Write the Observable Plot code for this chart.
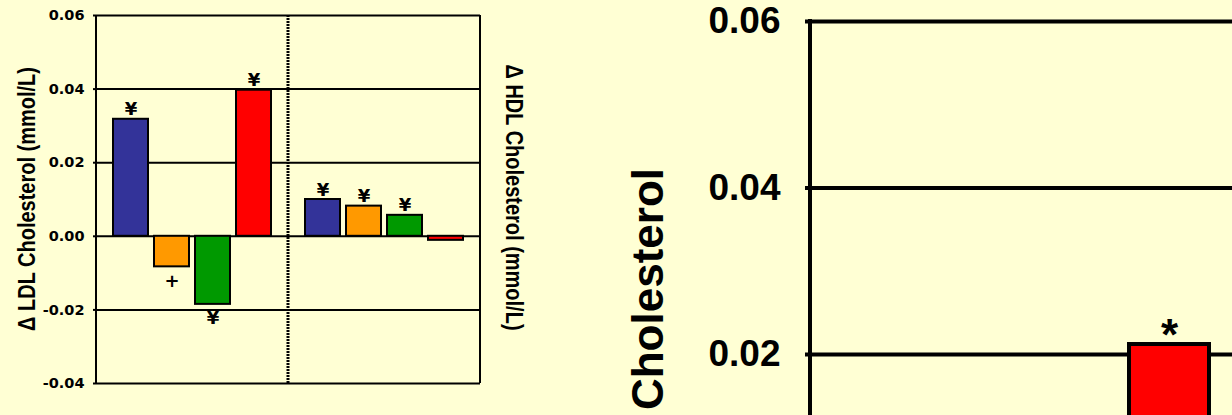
<!DOCTYPE html>
<html><head><meta charset="utf-8">
<script src="https://cdn.jsdelivr.net/npm/d3@7"></script>
<script src="https://cdn.jsdelivr.net/npm/@observablehq/plot@0.6"></script>
<style>
html,body{margin:0;padding:0;background:#FFFFD4;}
#wrap{position:relative;width:1232px;height:415px;overflow:hidden;background:#FFFFD4;}
#left{position:absolute;left:0;top:0;width:560px;}
#right{position:absolute;left:560px;top:0;width:700px;}
svg{overflow:visible;max-width:none !important;}
</style></head><body><div id="wrap"><div id="left"></div><div id="right"></div></div>
<script>
// ---- data: main panel ----
const groups = ["LDL", "HDL"];
const arms = ["Arm 1", "Arm 2", "Arm 3", "Arm 4"];
const armColors = ["#333399", "#FF9900", "#009900", "#FF0000"];
const ldlChange = [0.0318, -0.0083, -0.0185, 0.0397];
const hdlChange = [0.0100, 0.0082, 0.0057, -0.0011];
const ldlMarks = ["¥", "+", "¥", "¥"];
const hdlMarks = ["¥", "¥", "¥", ""];
const yTicks = [-0.04, -0.02, 0, 0.02, 0.04, 0.06];
const leftYLabel = "Δ LDL Cholesterol (mmol/L)";
const rightYLabel = "Δ HDL Cholesterol (mmol/L)";

// ---- data: enlarged inset panel (only the visible part) ----
const insetArms = ["Arm 4"];
const insetChange = [0.0212];
const insetMarks = ["*"];
const insetTicks = [0.02, 0.04, 0.06];
const insetYLabel = "Cholesterol";

const fmt = d => d.toFixed(2);
const rows = groups.flatMap(g => arms.map((a, i) => ({
  group: g, arm: a,
  value: g === "LDL" ? ldlChange[i] : hdlChange[i],
  mark: g === "LDL" ? ldlMarks[i] : hdlMarks[i]
})));
const insetRows = insetArms.map((a, i) => ({arm: a, value: insetChange[i], mark: insetMarks[i]}));

const L = Plot.plot({
  width: 560, height: 415,
  marginLeft: 95, marginRight: 80, marginTop: 15, marginBottom: 32,
  style: {background: "transparent", fontFamily: "'DejaVu Sans', sans-serif", color: "#000", maxWidth: "none"},
  fx: {domain: groups, padding: 0, axis: null},
  x: {domain: arms, paddingInner: 0.15, paddingOuter: 0.38, axis: null},
  y: {domain: [-0.04, 0.06], axis: null},
  color: {domain: arms, range: armColors},
  marks: [
    Plot.ruleY(yTicks, {stroke: "#000", strokeWidth: 2}),
    Plot.barY(rows, {fx: "group", x: "arm", y: "value", fill: "arm", stroke: "#000", strokeWidth: 2}),
    Plot.text(rows.filter(d => d.mark && d.value > 0), {fx: "group", x: "arm", y: "value", text: "mark",
      lineAnchor: "bottom", dy: -4, fontSize: 18, fontWeight: "bold", fill: "#000"}),
    Plot.text(rows.filter(d => d.mark && d.value < 0), {fx: "group", x: "arm", y: "value", text: "mark",
      lineAnchor: "top", dy: 7, fontSize: 18, fontWeight: "bold", fill: "#000"}),
    Plot.axisY(yTicks, {tickFormat: fmt, tickSize: 3, tickPadding: 9, strokeWidth: 2,
      fontSize: 14.5, fontWeight: "bold", fill: "#000", label: null})
  ]
});
document.getElementById("left").appendChild(L);
{
  const fx = L.scale("fx"), y = L.scale("y");
  const svg = d3.select(L);
  const yTop = y.apply(0.06), yBot = y.apply(-0.04);
  const x0 = fx.apply("LDL"), xs = fx.apply("HDL"), x1 = xs + fx.bandwidth;
  const line = (x, w, dash) => svg.append("line").attr("x1", x).attr("x2", x).attr("y1", yTop).attr("y2", yBot)
    .attr("stroke", "#000").attr("stroke-width", w).attr("stroke-dasharray", dash || null);
  line(x0, 2); line(x1, 2); line(xs, 3, "2,1");
  const yc = (yTop + yBot) / 2;
  svg.append("text").text(leftYLabel)
    .attr("transform", `translate(${x0 - 61},${yc}) rotate(-90) scale(1,1.2)`)
    .attr("text-anchor", "middle").attr("font-family", "'Liberation Sans', Arial, sans-serif")
    .attr("font-weight", "bold").attr("font-size", 20).attr("fill", "#000");
  svg.append("text").text(rightYLabel)
    .attr("transform", `translate(${x1 + 26},${yc - 1.5}) rotate(90) scale(1,1.2)`)
    .attr("text-anchor", "middle").attr("font-family", "'Liberation Sans', Arial, sans-serif")
    .attr("font-weight", "bold").attr("font-size", 20).attr("fill", "#000");
}

const R = Plot.plot({
  width: 686, height: 874,
  marginLeft: 250, marginRight: 0, marginTop: 21, marginBottom: 20.5,
  style: {background: "transparent", fontFamily: "'Liberation Sans', Arial, sans-serif", color: "#000", maxWidth: "none"},
  x: {domain: arms, paddingInner: 0.15, paddingOuter: 0.375, axis: null},
  y: {domain: [-0.04, 0.06], axis: null},
  color: {domain: arms, range: armColors},
  marks: [
    Plot.ruleY(insetTicks, {stroke: "#000", strokeWidth: 4}),
    Plot.barY(insetRows, {x: "arm", y: "value", fill: "arm", stroke: "#000", strokeWidth: 4}),
    Plot.text(insetRows, {x: "arm", y: "value", text: "mark", lineAnchor: "bottom", dy: 5,
      fontSize: 44, fontWeight: "bold", fill: "#000"}),
    Plot.axisY(insetTicks, {tickFormat: fmt, tickSize: 5, tickPadding: 25, strokeWidth: 4,
      fontSize: 37, fontWeight: "bold", fill: "#000", label: null})
  ]
});
document.getElementById("right").appendChild(R);
{
  const y = R.scale("y"), x = R.scale("x");
  const svg = d3.select(R);
  const xa = x.range[0];
  svg.append("line").attr("x1", xa).attr("x2", xa).attr("y1", y.apply(0.06) - 2).attr("y2", y.apply(-0.04))
    .attr("stroke", "#000").attr("stroke-width", 4);
  svg.append("text").text(insetYLabel)
    .attr("transform", `translate(${xa - 147},${y.apply(0.06) + 147}) rotate(-90)`)
    .attr("text-anchor", "end").attr("font-weight", "bold").attr("font-size", 44).attr("fill", "#000");
}
</script></body></html>
